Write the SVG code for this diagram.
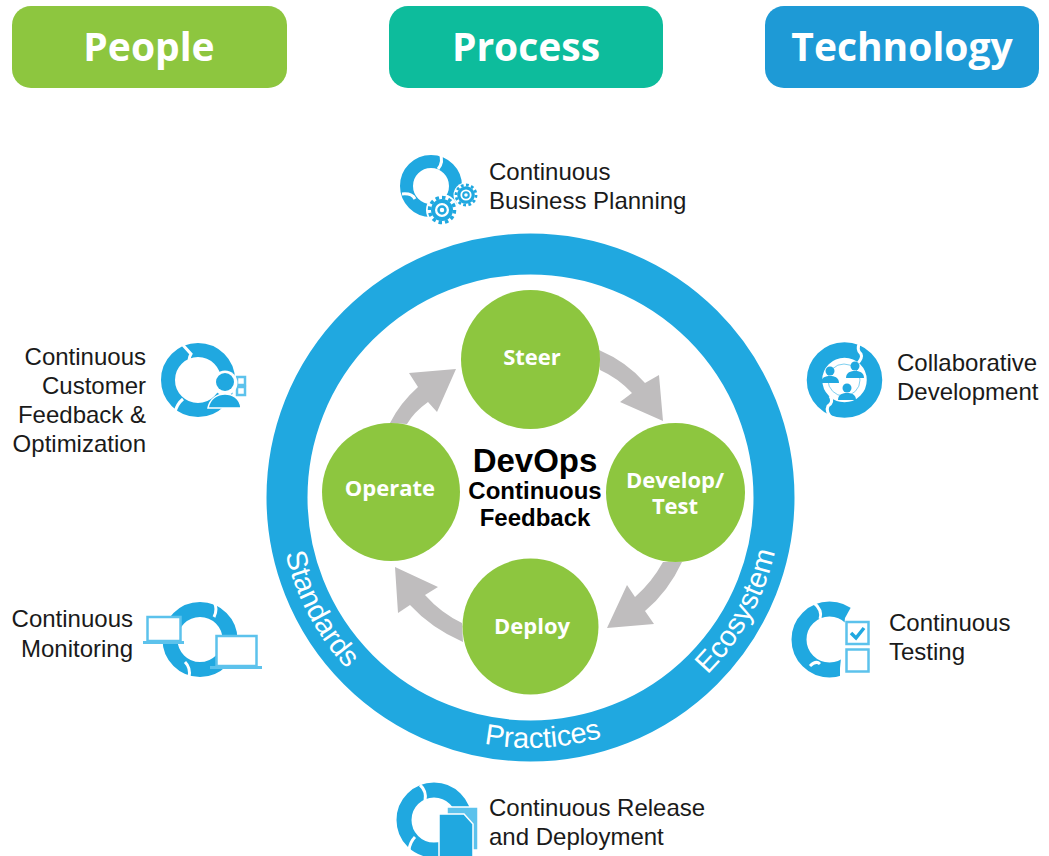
<svg xmlns="http://www.w3.org/2000/svg" width="1049" height="856" viewBox="0 0 1049 856">
<style>
.hd{font:700 39px "Open Sans",sans-serif;fill:#fff;text-anchor:middle}
.lb{font:24px "Liberation Sans",Arial,sans-serif;fill:#1a1a1a}
.e{text-anchor:end}
.st{font:700 22px "Open Sans",sans-serif;fill:#fff;text-anchor:middle}
.ct{font:700 24px "Liberation Sans",Arial,sans-serif;fill:#000;text-anchor:middle}
.rg{font:29px "Liberation Sans",Arial,sans-serif;fill:#fff}
.ic{fill:none;stroke:#20a8e0}
.sep{stroke:#fff;stroke-width:3;fill:none}
.bl{fill:#20a8e0}
.wh{fill:#fff}
.ln{fill:#fff;stroke:#5cc2ec;stroke-width:2.5}
.ah{fill:#bfbdbe}
.nd{fill:#8dc63f}
</style>
<defs>
<path id="pStd" d="M285.400 553.500A251 251 0 0 0 404.500 714.400"/>
<path id="pPra" d="M484 743.700A251 251 0 0 0 655.500 714.400"/>
<path id="pEco" d="M707.500 674.500A251 251 0 0 0 777 453"/>
<g id="gear"><circle r="12.500" fill="none" stroke="#20a8e0" stroke-width="3.500" stroke-dasharray="3.500 3"/><circle r="9" fill="none" stroke="#20a8e0" stroke-width="4"/><circle r="3.500" fill="#fff" stroke="#20a8e0" stroke-width="2.500"/></g>
<g id="person"><circle cx="0" cy="-5" r="4.500" class="bl"/><path class="bl" d="M-9 7C-9 1-4 0 0 0S9 1 9 7Z"/></g>
</defs>

<g id="people"><rect x="12" y="6" width="275" height="82" rx="19" fill="#8dc63f"/><text class="hd" x="149" y="61">People</text></g>
<g id="process"><rect x="389" y="6" width="274" height="82" rx="19" fill="#0dbc9c"/><text class="hd" x="526" y="61">Process</text></g>
<g id="technology"><rect x="765" y="6" width="274" height="82" rx="19" fill="#1e9ad6"/><text class="hd" x="902" y="61">Technology</text></g>

<g id="ring">
<circle cx="530.500" cy="497.500" r="243.500" fill="none" stroke="#20a8e0" stroke-width="41"/>
<text class="rg"><textPath href="#pStd">Standards</textPath></text>
<text class="rg"><textPath href="#pPra">Practices</textPath></text>
<text class="rg"><textPath href="#pEco">Ecosystem</textPath></text>
</g>

<g id="connectors">
<path class="ah" d="M599 350Q627 362 645 383L659 375L663 421L620 402L632 393Q618 378 600 370Z"/>
<path class="ah" d="M663 562Q652 582 635 597L627 585L607 628L654 624L645 611Q668 592 682 562Z"/>
<path class="ah" d="M462 623Q441 613 425 595L438 587L395 567L398 613L410 605Q431 628 463 642Z"/>
<path class="ah" d="M390 423Q400 403 418 387L409 373L456 369L437 412L428 402Q414 412 407 424Z"/>
</g>

<g id="steer"><circle class="nd" cx="530.500" cy="359.500" r="69.500"/><text class="st" x="532" y="365">Steer</text></g>
<g id="develop"><circle class="nd" cx="675.500" cy="492.500" r="69.500"/><text class="st" x="675" y="488">Develop/</text><text class="st" x="675" y="514">Test</text></g>
<g id="deploy"><circle class="nd" cx="530.500" cy="626.500" r="68"/><text class="st" x="532" y="634">Deploy</text></g>
<g id="operate"><circle class="nd" cx="391" cy="492" r="69"/><text class="st" x="390" y="496">Operate</text></g>
<g id="center"><text class="ct" style="font-size:33px" x="535" y="472">DevOps</text><text class="ct" x="535" y="499">Continuous</text><text class="ct" x="535" y="526">Feedback</text></g>

<g id="planning">
<circle class="ic" cx="431" cy="186" r="24.500" stroke-width="13"/>
<path class="sep" d="M440 153Q444 162 438 169M402 194Q412 193 415 199"/>
<circle cx="466" cy="195" r="12.500" class="wh"/><circle cx="442" cy="210" r="16" class="wh"/>
<use href="#gear" transform="translate(442 210)"/>
<use href="#gear" transform="translate(466 195) scale(.8)"/>
<text class="lb" x="489" y="180">Continuous</text><text class="lb" x="489" y="209">Business Planning</text>
</g>
<g id="feedback">
<circle class="ic" cx="198" cy="380" r="30" stroke-width="14"/>
<path class="sep" d="M182 344L191 354Q188 359 190 364M183 399Q177 404 175 412"/>
<rect x="237" y="377" width="8" height="8" class="ln" stroke-width="1.500"/><rect x="237" y="387" width="8" height="8" class="ln" stroke-width="1.500"/>
<circle cx="225" cy="383" r="12.500" class="wh"/><circle cx="225" cy="382" r="9" class="bl"/>
<path class="bl" stroke="#fff" stroke-width="1.500" d="M208 408C210 398 218 394 225 394S240 398 241 408Z"/>
<text class="lb e" x="146" y="365">Continuous</text><text class="lb e" x="146" y="394">Customer</text><text class="lb e" x="146" y="423">Feedback &amp;</text><text class="lb e" x="146" y="452">Optimization</text>
</g>
<g id="collab">
<circle class="ic" cx="844.500" cy="380" r="30" stroke-width="15.500"/>
<path class="sep" d="M860 342Q856 350 861 354Q863 358 857 364M830 396Q834 402 828 406Q825 412 833 419"/>
<circle cx="844" cy="380" r="16" fill="none" stroke="#7fd0f0" stroke-width="1"/>
<use href="#person" transform="translate(830 376)"/>
<use href="#person" transform="translate(855 371)"/>
<use href="#person" transform="translate(847 393)"/>
<text class="lb" x="897" y="371">Collaborative</text><text class="lb" x="897" y="400">Development</text>
</g>
<g id="monitoring">
<circle class="ic" cx="200" cy="639.500" r="30" stroke-width="15"/>
<path class="sep" d="M214 602Q218 609 214 617M185 662Q191 668 189 677"/>
<rect x="147.500" y="617" width="33" height="24" class="ln"/><rect x="143" y="641" width="41" height="3" fill="#5cc2ec"/>
<rect x="216.500" y="636" width="40" height="30" class="ln"/><rect x="210" y="666" width="52" height="3" fill="#5cc2ec"/>
<text class="lb e" x="133" y="627">Continuous</text><text class="lb e" x="133" y="657">Monitoring</text>
</g>
<g id="testing">
<circle class="ic" cx="829.500" cy="639.500" r="30.500" stroke-width="15"/>
<polygon class="wh" points="845,618 855,600 880,600 880,680 840,680 840,668"/>
<path class="sep" d="M813 602Q823 610 820 619M810 666Q816 660 820 664"/>
<rect x="846.500" y="622" width="22" height="22" class="ln"/><rect x="846.500" y="649.500" width="22" height="22" class="ln"/>
<path d="M851 633L856 638L864 628" fill="none" stroke="#20a8e0" stroke-width="3.500"/>
<text class="lb" x="889" y="631">Continuous</text><text class="lb" x="889" y="660">Testing</text>
</g>
<g id="release">
<circle class="ic" cx="434" cy="820" r="30" stroke-width="15"/>
<path class="sep" d="M420 785Q427 791 425 801M415 837Q410 842 409 850"/>
<rect x="447" y="807" width="31" height="43" fill="#5cc2ec" stroke="#fff" stroke-width="1.500"/>
<path class="bl" stroke="#fff" stroke-width="1.500" d="M439 814H464L473 824V857H439Z"/>
<text class="lb" x="489" y="816">Continuous Release</text><text class="lb" x="489" y="845">and Deployment</text>
</g>
</svg>
